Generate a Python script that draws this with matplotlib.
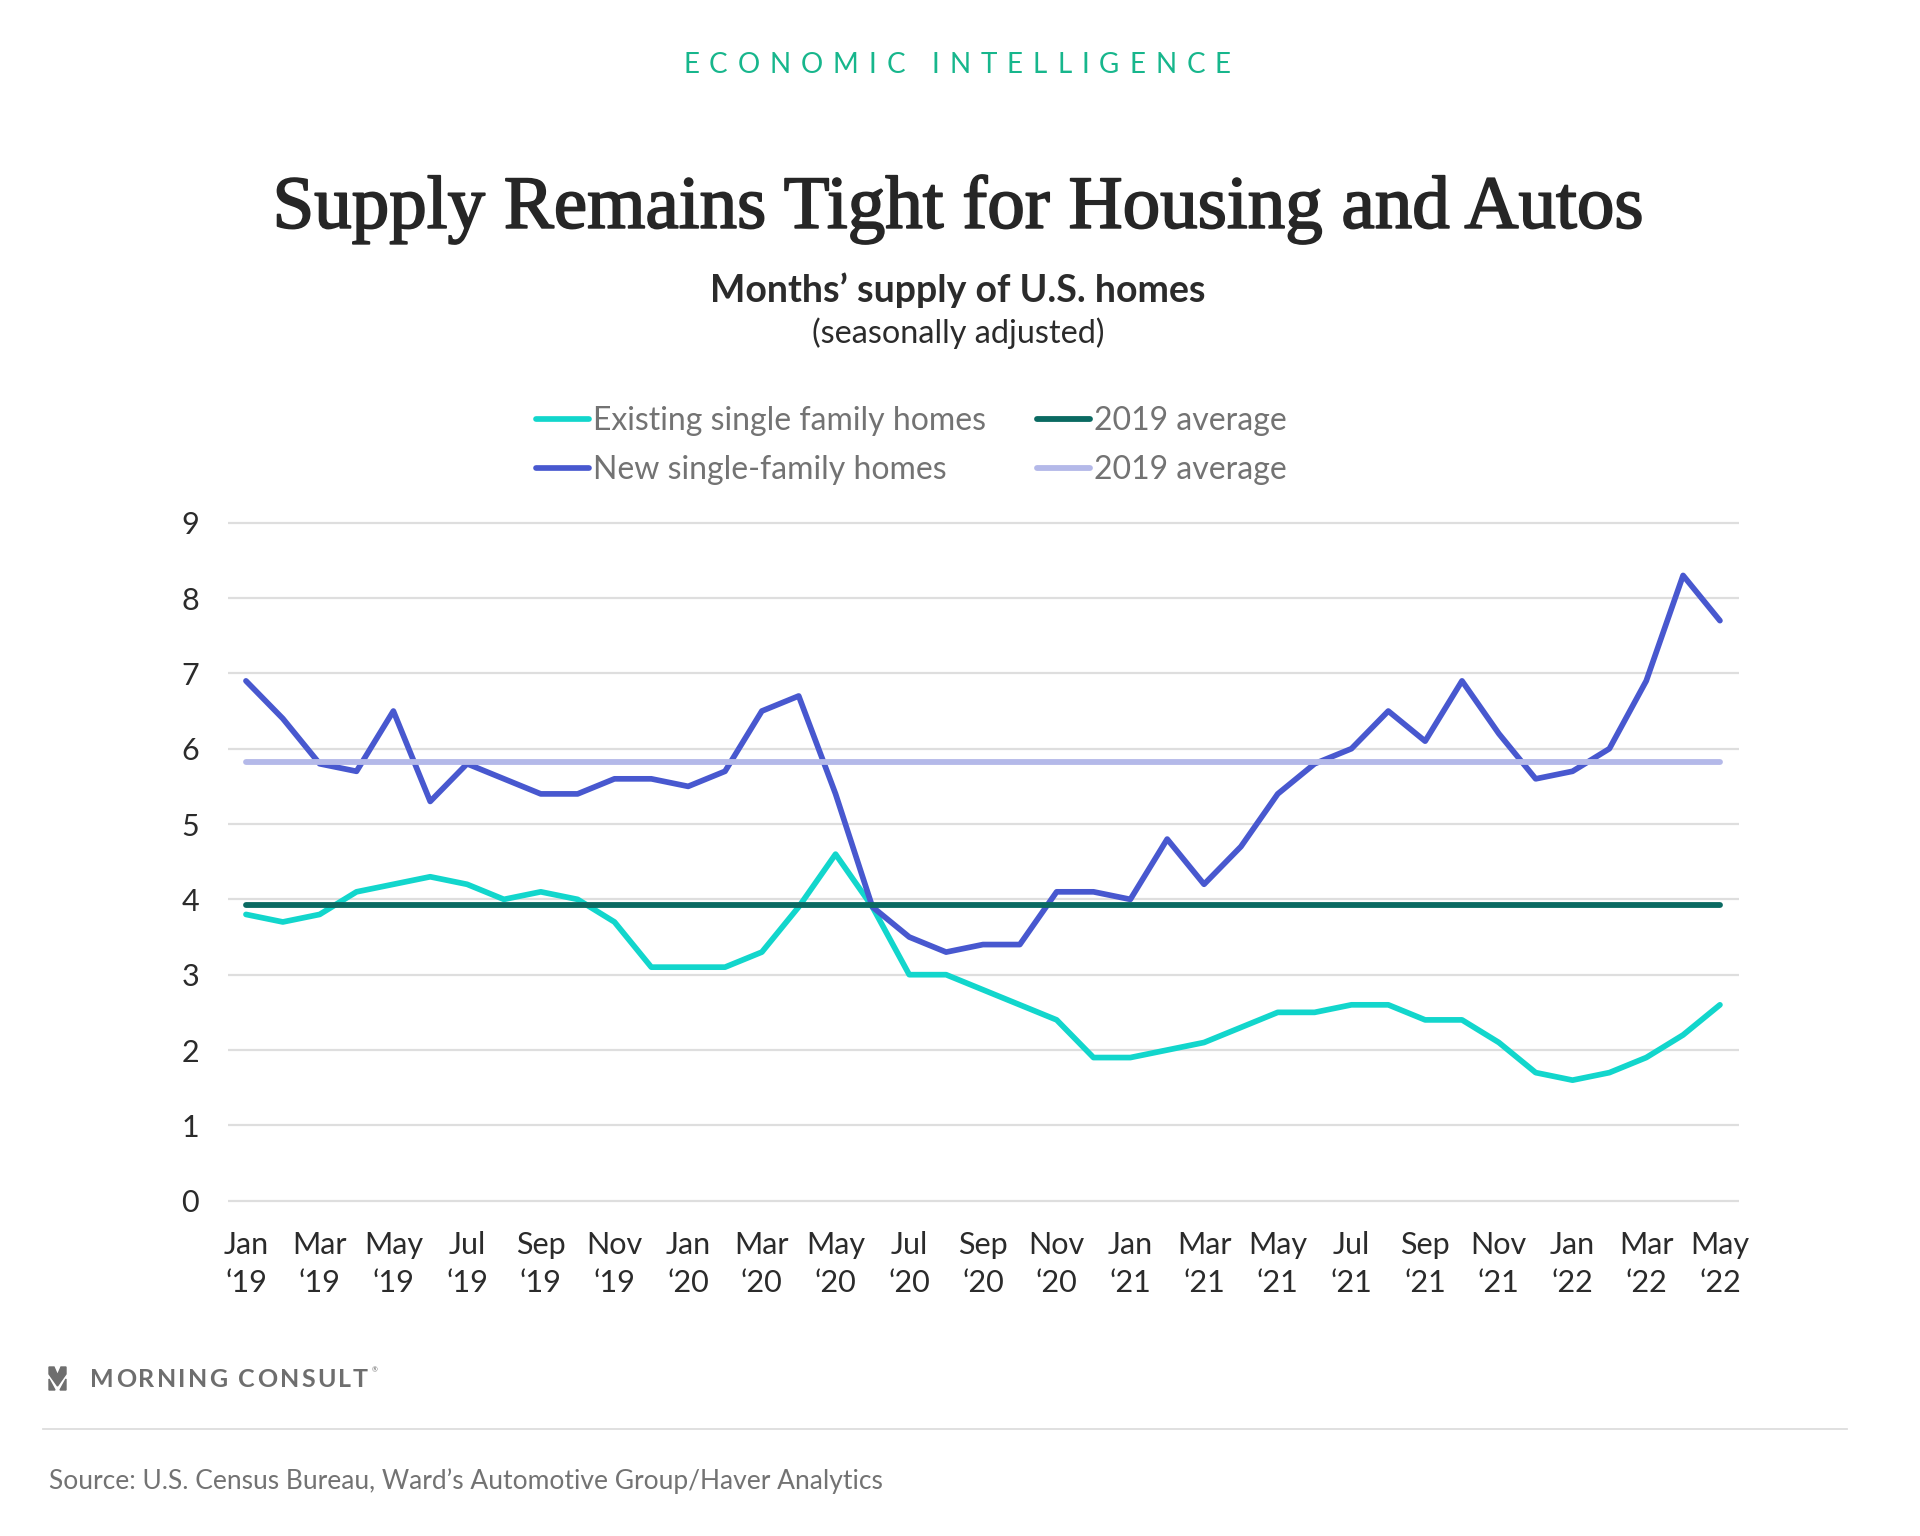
import matplotlib
matplotlib.use("Agg")
import matplotlib.pyplot as plt
from matplotlib.lines import Line2D
from matplotlib.patches import Polygon
import matplotlib.patheffects as pe

# ---------------- data ----------------
months = ["Jan", "Feb", "Mar", "Apr", "May", "Jun", "Jul", "Aug", "Sep", "Oct", "Nov", "Dec"] * 3 + \
         ["Jan", "Feb", "Mar", "Apr", "May"]
years = ["19"] * 12 + ["20"] * 12 + ["21"] * 12 + ["22"] * 5

existing = [3.8, 3.7, 3.8, 4.1, 4.2, 4.3, 4.2, 4.0, 4.1, 4.0, 3.7, 3.1,
            3.1, 3.1, 3.3, 3.9, 4.6, 3.9, 3.0, 3.0, 2.8, 2.6, 2.4, 1.9,
            1.9, 2.0, 2.1, 2.3, 2.5, 2.5, 2.6, 2.6, 2.4, 2.4, 2.1, 1.7,
            1.6, 1.7, 1.9, 2.2, 2.6]
new_homes = [6.9, 6.4, 5.8, 5.7, 6.5, 5.3, 5.8, 5.6, 5.4, 5.4, 5.6, 5.6,
             5.5, 5.7, 6.5, 6.7, 5.4, 3.9, 3.5, 3.3, 3.4, 3.4, 4.1, 4.1,
             4.0, 4.8, 4.2, 4.7, 5.4, 5.8, 6.0, 6.5, 6.1, 6.9, 6.2, 5.6,
             5.7, 6.0, 6.9, 8.3, 7.7]
avg_existing_2019 = 3.92
avg_new_2019 = 5.83

series_labels = ["Existing single family homes", "New single-family homes", "2019 average", "2019 average"]
yticks = [0, 1, 2, 3, 4, 5, 6, 7, 8, 9]

# ---------------- style ----------------
C_EXIST = "#12D6CC"
C_NEW = "#4858CF"
C_AVG_E = "#0A6A62"
C_AVG_N = "#B4B9E9"
C_GRID = "#DEDEDE"
C_TEXT = "#2B2B2B"
C_GRAY = "#737373"
SANS = ["Lato", "DejaVu Sans"]

plt.rcParams["font.family"] = SANS

W, H = 1920, 1536
fig = plt.figure(figsize=(W / 100, H / 100), dpi=100)
fig.patch.set_facecolor("white")
ax = fig.add_axes([0.1189, 0.2134, 0.7868, 0.4512])

x = list(range(len(existing)))
l_exist, = ax.plot(x, existing, color=C_EXIST, lw=4.1, solid_joinstyle="round", solid_capstyle="round", zorder=3)
l_new, = ax.plot(x, new_homes, color=C_NEW, lw=4.1, solid_joinstyle="round", solid_capstyle="round", zorder=3)
l_avg_e, = ax.plot([x[0], x[-1]], [avg_existing_2019] * 2, color=C_AVG_E, lw=4.2, solid_capstyle="round", zorder=4)
l_avg_n, = ax.plot([x[0], x[-1]], [avg_new_2019] * 2, color=C_AVG_N, lw=4.2, solid_capstyle="round", zorder=4)

ax.set_xlim(-0.48, 40.516)
ax.set_ylim(-0.1, 9.1)
ax.set_yticks(yticks)
ax.set_yticklabels([str(v) for v in yticks])
tick_pos = x[::2]
ax.set_xticks(tick_pos)
ax.set_xticklabels([f"{months[i]}\n\u2018{years[i]}" for i in tick_pos], linespacing=1.45)
ax.tick_params(axis="both", length=0, labelsize=22, labelcolor=C_TEXT)
ax.tick_params(axis="y", pad=21)
ax.tick_params(axis="x", pad=16.5)
for s in ax.spines.values():
    s.set_visible(False)
ax.grid(axis="y", color=C_GRID, lw=1.6, zorder=0)
ax.set_axisbelow(True)

# ---------------- legend ----------------
leg = fig.legend([l_exist, l_new, l_avg_e, l_avg_n], series_labels, ncol=2, loc="center",
                 bbox_to_anchor=(0.4745, 0.7098), frameon=False, fontsize=23,
                 handlelength=1.68, handletextpad=0.1, columnspacing=1.6, labelspacing=0.585)
for t in leg.get_texts():
    t.set_color(C_GRAY)


# ---------------- texts ----------------
def tracked(s, x0_px, baseline_px, total_px, fontsize, **kw):
    """Letter-spaced text: place each glyph so the string spans total_px."""
    r = fig.canvas.get_renderer()
    arts, widths = [], []
    for ch in s:
        if ch == " ":
            arts.append(None)
            widths.append(0.25 * fontsize * 100 / 72)
            continue
        t = fig.text(0, 0, ch, fontsize=fontsize, ha="left", va="baseline", **kw)
        arts.append(t)
        widths.append(t.get_window_extent(renderer=r).width)
    track = (total_px - sum(widths)) / (len(s) - 1)
    xx = x0_px
    for a, w in zip(arts, widths):
        if a is not None:
            a.set_position((xx / W, 1 - baseline_px / H))
        xx += w + track


tracked("ECONOMIC INTELLIGENCE", 683, 73.3, 548, 20, color="#17B68C")

fig.text(0.499, 1 - 227.8 / H, "Supply Remains Tight for Housing and Autos", ha="center", va="baseline",
         fontsize=54, color="#262626", family=["Liberation Serif", "DejaVu Serif"],
         path_effects=[pe.withStroke(linewidth=1.3, foreground="#262626")])
fig.text(0.499, 1 - 302.5 / H, "Months\u2019 supply of U.S. homes", ha="center", va="baseline",
         fontsize=27, fontweight="bold", color=C_TEXT)
fig.text(0.499, 1 - 343 / H, "(seasonally adjusted)", ha="center", va="baseline",
         fontsize=23.3, color=C_TEXT)

# footer logo
tracked("MORNING CONSULT", 90, 1387, 278, 18, color="#6E6E6E", fontweight="bold")
fig.text(372 / W, 1 - 1372 / H, "\u00ae", fontsize=5, color="#6E6E6E", ha="left", va="baseline")
px = lambda X, Y: (X / W, 1 - Y / H)
logo_parts = [
    [px(49, 1367), px(54, 1367), px(57.5, 1375), px(61, 1367), px(66, 1367),
     px(66, 1374), px(57.5, 1386), px(49, 1374)],
    [px(49, 1379), px(55, 1390), px(49, 1390)],
    [px(66, 1379), px(60, 1390), px(66, 1390)],
]
for pts in logo_parts:
    fig.add_artist(Polygon(pts, closed=True, transform=fig.transFigure, color="#6E6E6E"))

fig.add_artist(Line2D([43 / W, 1846.5 / W], [1 - 1429 / H] * 2, transform=fig.transFigure,
                      color="#DDDDDD", lw=1.3))
fig.text(49 / W, 1 - 1489 / H, "Source: U.S. Census Bureau, Ward\u2019s Automotive Group/Haver Analytics",
         ha="left", va="baseline", fontsize=19, color=C_GRAY)

fig.savefig("out.png", dpi=100, facecolor="white")
